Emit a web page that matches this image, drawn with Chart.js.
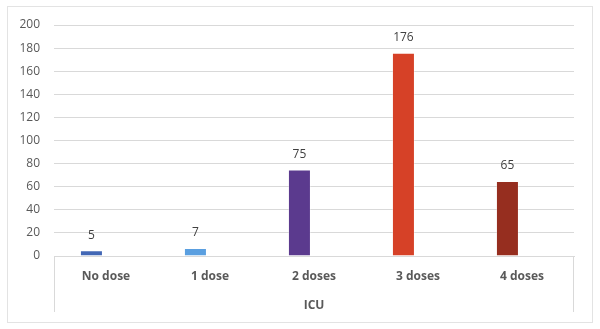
<!DOCTYPE html>
<html><head><meta charset="utf-8">
<script src="https://cdn.jsdelivr.net/npm/chart.js@4/dist/chart.umd.min.js"></script>
<style>html,body{margin:0;padding:0;background:#fff}#wrap{width:600px;height:329px;position:relative}</style>
</head><body><div id="wrap"><canvas id="c" width="600" height="329"></canvas></div>
<script>
const categories = ['No dose', '1 dose', '2 doses', '3 doses', '4 doses'];
const icuValues = [5, 7, 75, 176, 65];
const barColors = ['#4267B5', '#5A9FE0', '#5B3A8E', '#D64127', '#962E1F'];
const yTicks = [0, 20, 40, 60, 80, 100, 120, 140, 160, 180, 200];
const axisTitle = 'ICU';

const FONT = '"Open Sans", "Liberation Sans", sans-serif';

const framePlugin = {
  id: 'frame',
  beforeDraw(chart) {
    const ctx = chart.ctx;
    ctx.save();
    ctx.fillStyle = '#fff';
    ctx.fillRect(0, 0, chart.width, chart.height);
    ctx.strokeStyle = '#e3e3e3';
    ctx.lineWidth = 1;
    ctx.strokeRect(7.5, 6.5, 585, 316);
    ctx.restore();
  },
  afterDraw(chart) {
    const ctx = chart.ctx;
    const a = chart.chartArea;
    ctx.save();
    ctx.strokeStyle = '#d9d9d9';
    ctx.lineWidth = 1;
    ctx.beginPath();
    ctx.moveTo(Math.round(a.left) + 0.5, a.bottom);
    ctx.lineTo(Math.round(a.left) + 0.5, 312);
    ctx.moveTo(Math.round(a.right) - 0.5, a.bottom);
    ctx.lineTo(Math.round(a.right) - 0.5, 312);
    ctx.stroke();
    // data labels
    const meta = chart.getDatasetMeta(0);
    ctx.fillStyle = '#404040';
    ctx.font = '12px ' + FONT;
    ctx.textAlign = 'center';
    ctx.textBaseline = 'middle';
    meta.data.forEach((bar, i) => {
      ctx.fillText(String(icuValues[i]), bar.x, bar.y - 15);
    });
    ctx.restore();
  }
};

new Chart(document.getElementById('c'), {
  type: 'bar',
  data: {
    labels: categories,
    datasets: [
      { label: 'ICU', data: icuValues, backgroundColor: barColors, borderColor: 'rgba(255,255,255,0.35)', borderWidth: 1, categoryPercentage: 0.56, barPercentage: 0.79 },
      { label: '', data: categories.map(() => null), backgroundColor: 'rgba(0,0,0,0)', categoryPercentage: 0.56, barPercentage: 0.79 }
    ]
  },
  options: {
    responsive: false,
    animation: false,
    devicePixelRatio: 1,
    layout: { padding: { left: 0, right: 26, top: 25, bottom: 16 } },
    plugins: { legend: { display: false }, tooltip: { enabled: false } },
    scales: {
      x: {
        grid: { display: false, drawTicks: false },
        border: { display: true, color: '#d9d9d9' },
        ticks: { color: '#595959', font: { family: FONT, size: 12, weight: 'bold' }, padding: 13, maxRotation: 0 },
        title: { display: true, text: axisTitle, color: '#595959', font: { family: FONT, size: 12, weight: 'bold' }, padding: { top: 10, bottom: 0 } },
        afterFit(s) { s.height = 57; }
      },
      y: {
        min: 0, max: 200,
        afterBuildTicks(s) { s.ticks = yTicks.map(v => ({ value: v })); },
        grid: { color: '#d9d9d9', drawTicks: false },
        border: { display: false },
        ticks: { color: '#595959', font: { family: FONT, size: 12 }, padding: 14 },
        afterFit(s) { s.width = 54; }
      }
    }
  },
  plugins: [framePlugin]
});
</script></body></html>
